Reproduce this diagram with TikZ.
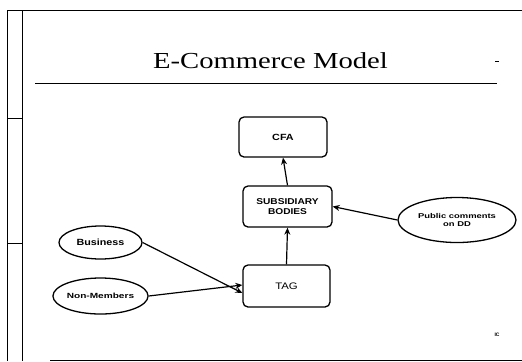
\documentclass[tikz,border=0pt]{standalone}
\usepackage{fontspec}
\setmainfont{Liberation Serif}
\setsansfont{Liberation Sans}
\newfontfamily\titlefont[FakeStretch=1.25]{Liberation Serif}
\newfontfamily\widesans[FakeStretch=1.2]{Liberation Sans}
\newfontfamily\widersans[FakeStretch=1.35]{Liberation Sans}
\usetikzlibrary{shapes.geometric,arrows.meta}
\begin{document}
\begin{tikzpicture}[x=1bp,y=-1bp,
  box/.style={draw,rounded corners=5bp,line width=1.3bp,inner sep=0pt},
  oval/.style={draw,ellipse,line width=1.3bp,inner sep=0pt},
  link/.style={line width=1.2bp,-{Stealth[length=7bp,width=6bp]}},
  frame/.style={line width=0.9bp}]
\useasboundingbox (0,0) rectangle (522,361);
% slide frame
\draw[frame] (7,10) -- (522,10);
\draw[frame] (7,10) -- (7,361);
\draw[frame] (22,10) -- (22,361);
\draw[frame] (7,118) -- (22,118);
\draw[frame] (7,243) -- (22,243);
\draw[frame] (50,360) -- (522,360);
% title
\node[anchor=base,inner sep=0pt] (title) at (270.5,68) {\titlefont\fontsize{23}{25}\selectfont E-Commerce Model};
\draw[frame] (35,83) -- (497,83);
\draw[line width=0.6bp] (495,61) -- (499,61);
% boxes
\node[box,minimum width=88bp,minimum height=40bp,font=\widesans\bfseries\fontsize{9}{9}\selectfont] (cfa) at (283,137) {CFA};
\node[box,minimum width=89bp,minimum height=41bp,align=center,font=\widesans\bfseries\fontsize{8.5}{10}\selectfont] (sub) at (287.5,206.5) {SUBSIDIARY\\BODIES};
\node[box,minimum width=87bp,minimum height=42bp,font=\widesans\fontsize{9.5}{10}\selectfont] (tag) at (286.5,286) {TAG};
% ellipses
\node[oval,minimum width=83bp,minimum height=33bp,font=\widesans\bfseries\fontsize{9}{10}\selectfont] (bus) at (100.5,242.5) {Business};
\node[oval,minimum width=83bp,minimum height=36bp,font=\widersans\bfseries\fontsize{7.5}{8}\selectfont] (non) at (100.5,296) {Non-Members};
\node[oval,minimum width=118bp,minimum height=45bp,align=center,font=\widersans\bfseries\fontsize{7}{9}\selectfont] (pub) at (457,220) {Public comments\\on DD};
% connectors
\draw[link] (sub.north) -- (cfa.south);
\draw[link] (tag.north) -- (sub.south);
\draw[link] (pub.west) -- (sub.east);
\draw[link] (bus.east) -- ([yshift=-7bp]tag.west);
\draw[link] (non.east) -- ([yshift=1bp]tag.west);
% footer mark
\node[font=\sffamily\bfseries\fontsize{5}{6}\selectfont] (mark) at (497,335) {IC};
\end{tikzpicture}
\end{document}
